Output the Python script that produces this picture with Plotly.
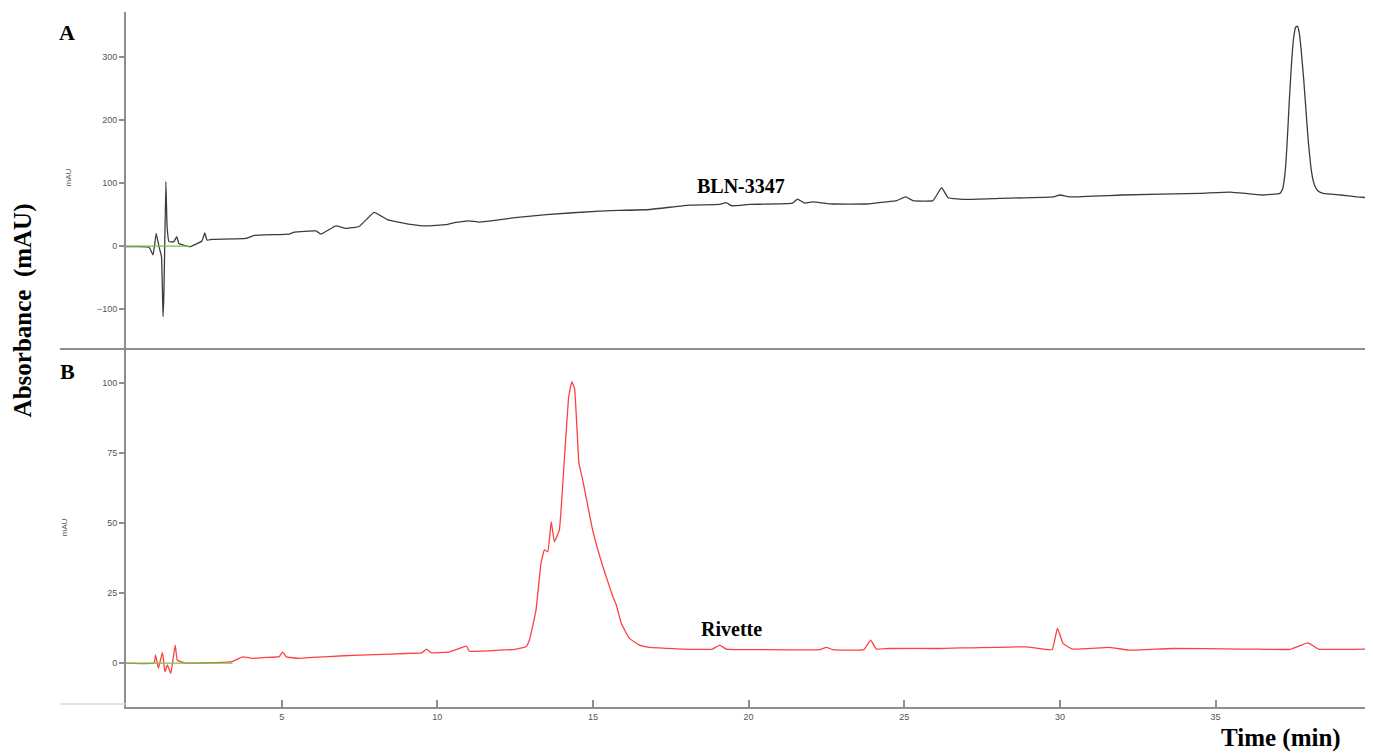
import plotly.graph_objects as go

# ---------------- Data ----------------
# Panel A : BLN-3347 chromatogram (time in min, absorbance in mAU)
time_a = [0.0, 0.40, 0.74, 0.87, 0.97, 1.06, 1.14, 1.19, 1.22, 1.28, 1.32, 1.38, 1.54, 1.63, 1.70,
          2.03, 2.12, 2.44, 2.53, 2.60, 2.77, 3.85, 4.12, 5.24, 5.40, 6.10, 6.26, 6.74, 7.06,
          7.49, 7.97, 8.39, 8.55, 9.20, 9.64, 10.28, 10.60, 11.03, 11.35, 12.5, 13.5, 15.21,
          16.82, 18.10, 19.07, 19.28, 19.44, 20.03, 21.41, 21.57, 21.80, 22.06, 22.70, 23.78,
          24.43, 24.75, 25.05, 25.28, 25.92, 26.20, 26.41, 27.0, 28.07, 29.8, 30.0, 30.3,
          32.0, 34.50, 35.47, 36.49, 37.07, 37.15, 37.23, 37.30, 37.37, 37.44, 37.50, 37.57,
          37.63, 37.69, 37.75, 37.83, 37.91, 37.98, 38.06, 38.13, 38.20, 38.30, 38.46, 39.01,
          39.54, 39.80]
abs_a = [-1, -1, -2, -14, 20, -1, -17, -112, -70, 102, 31, 7, 7, 15, 4,
         -1, 0, 8, 21, 9.5, 10.6, 12, 17, 19, 22, 24, 19, 32, 28,
         31, 53.5, 42, 40, 34, 32, 34, 37.5, 40, 38, 45, 50, 55.5,
         58, 65, 66, 69, 64, 66, 68, 74.6, 68, 70, 66.7, 66.7,
         70, 72, 78, 72, 72, 92.6, 76.7, 74, 75.7, 78, 81, 78,
         81, 83.6, 85.7, 81, 83.6, 90, 115, 165, 232, 290, 327, 347,
         349, 338, 311, 265, 211, 165, 126, 105, 94, 87, 83.6, 81,
         78, 77]
baseline_a_time = [0.0, 2.05]
baseline_a_abs = [0, 0]

# Panel B : Rivette chromatogram
time_b = [0.0, 0.90, 0.95, 1.04, 1.17, 1.25, 1.33, 1.44, 1.58, 1.65, 1.92, 3.41, 3.74, 4.05,
          4.49, 4.92, 5.03, 5.15, 5.56, 6.0, 7.0, 8.0, 9.0, 9.5, 9.65, 9.8, 10.39, 10.94,
          11.03, 12.0, 12.5, 12.85, 12.96, 13.17, 13.33, 13.44, 13.55, 13.66, 13.76, 13.92,
          14.08, 14.22, 14.32, 14.41, 14.55, 14.67, 14.99, 15.32, 15.64, 15.75, 15.91, 16.17,
          16.5, 16.82, 17.9, 18.84, 19.07, 19.28, 20.5, 22.3, 22.5, 22.7, 23.7, 23.92, 24.1,
          24.5, 26.08, 28.92, 29.75, 29.92, 30.1, 30.4, 31.6, 32.2, 33.6, 35.8, 36.2, 37.4,
          37.97, 38.3, 39.80]
abs_b = [0, 0, 2.9, -1.9, 3.8, -3.1, -0.7, -3.7, 6.4, 1, 0, 0.5, 2.2, 1.7,
         2.0, 2.3, 4.0, 2.2, 1.7, 2.0, 2.6, 3.0, 3.4, 3.6, 5.0, 3.7, 4.0, 6.0,
         4.2, 4.6, 4.9, 5.8, 8.2, 18.9, 35.6, 40.4, 39.8, 50.5, 43.3, 47.5,
         72.5, 95, 100.5, 98, 71.3, 65.4, 47.5, 34.4, 23.7, 20.7, 14.2, 8.8,
         6.4, 5.6, 5.0, 5.0, 6.4, 5.0, 4.8, 4.8, 5.6, 4.8, 4.8, 8.2, 5.0,
         5.2, 5.2, 5.8, 4.8, 12.5, 7.0, 5.0, 5.6, 4.6, 5.2, 5.0, 5.0, 4.9,
         7.2, 5.0, 5.0]
baseline_b_time = [0.0, 3.42]
baseline_b_abs = [0, 0]

x_ticks = [0, 5, 10, 15, 20, 25, 30, 35]
x_tick_labels = ["", "5", "10", "15", "20", "25", "30", "35"]
ya_ticks = [-100, 0, 100, 200, 300]
yb_ticks = [0, 25, 50, 75, 100]

# ---------------- Figure ----------------
AXIS_GREY = "#8e8e8e"
TICK_FONT = dict(family="Liberation Sans, Arial", size=9, color="#555555")
SERIF = "Liberation Serif, Times New Roman, serif"

fig = go.Figure()
fig.add_trace(go.Scatter(x=time_a, y=abs_a, mode="lines", xaxis="x2", yaxis="y",
                         line=dict(color="#3c3c3c", width=1.3, shape="spline", smoothing=0.3),
                         showlegend=False))
fig.add_trace(go.Scatter(x=baseline_a_time, y=baseline_a_abs, mode="lines", xaxis="x2", yaxis="y",
                         line=dict(color="#6cc644", width=1.3), showlegend=False))
fig.add_trace(go.Scatter(x=time_b, y=abs_b, mode="lines", xaxis="x", yaxis="y2",
                         line=dict(color="#ff4040", width=1.3, shape="spline", smoothing=0.3),
                         showlegend=False))
fig.add_trace(go.Scatter(x=baseline_b_time, y=baseline_b_abs, mode="lines", xaxis="x", yaxis="y2",
                         line=dict(color="#6cc644", width=1.3), showlegend=False))

# the page body adds an 8 px offset; size/margins compensate for it
fig.update_layout(
    width=1365, height=745,
    margin=dict(l=118, r=8, t=4, b=46, autoexpand=False),
    paper_bgcolor="white", plot_bgcolor="white",
    xaxis=dict(domain=[0, 1], range=[0, 39.8], anchor="y2",
               showline=True, linecolor=AXIS_GREY, linewidth=2,
               showgrid=False, zeroline=False,
               tickmode="array", tickvals=x_ticks, ticktext=x_tick_labels,
               ticks="inside", ticklen=7, tickcolor=AXIS_GREY, tickwidth=1.5,
               tickfont=TICK_FONT),
    xaxis2=dict(domain=[0, 1], range=[0, 39.8], anchor="y", matches="x",
                showline=False, showgrid=False, zeroline=False,
                showticklabels=False, ticks=""),
    yaxis=dict(domain=[0.515, 1], range=[-163.5, 371.4], anchor="x2",
               showline=True, linecolor=AXIS_GREY, linewidth=2,
               showgrid=False, zeroline=False,
               tickmode="array", tickvals=ya_ticks,
               ticks="outside", ticklen=5, tickcolor=AXIS_GREY, tickwidth=1.5,
               tickfont=TICK_FONT),
    yaxis2=dict(domain=[0, 0.5137], range=[-15.7, 111.8], anchor="x",
                showline=True, linecolor=AXIS_GREY, linewidth=2,
                showgrid=False, zeroline=False,
                tickmode="array", tickvals=yb_ticks,
                ticks="outside", ticklen=5, tickcolor=AXIS_GREY, tickwidth=1.5,
                tickfont=TICK_FONT),
)

# separator lines between panels
fig.add_shape(type="line", xref="paper", yref="paper", x0=-0.0533, x1=1, y0=0.515, y1=0.515,
              line=dict(color=AXIS_GREY, width=2))
fig.add_shape(type="line", xref="paper", yref="paper", x0=-0.0533, x1=0, y0=0.0043, y1=0.0043,
              line=dict(color="#d8d8d8", width=1.5))

# annotations (explicit centre anchoring)
def note(text, x, y, size, family=SERIF, color="black", angle=0, xref="paper", yref="paper"):
    fig.add_annotation(text=text, xref=xref, yref=yref, x=x, y=y, xanchor="center",
                       yanchor="middle", textangle=angle, showarrow=False,
                       font=dict(family=family, size=size, color=color))

note("<b>A</b>", -0.0476, 0.971, 22)
note("<b>B</b>", -0.0476, 0.483, 22)
note("mAU", -0.0468, 0.762, 8, family="Liberation Sans, Arial", color="#555555", angle=-90)
note("mAU", -0.049, 0.259, 8, family="Liberation Sans, Arial", color="#555555", angle=-90)
note("<b>BLN-3347</b>", 19.74, 96, 20, xref="x2", yref="y")
note("<b>Rivette</b>", 19.45, 12.1, 20, xref="x", yref="y2")
note("<b>Time (min)</b>", 0.932, -0.0445, 25)
note("<b>Absorbance  (mAU)</b>", -0.0835, 0.570, 25, angle=-90)

fig.write_html("out.html")
